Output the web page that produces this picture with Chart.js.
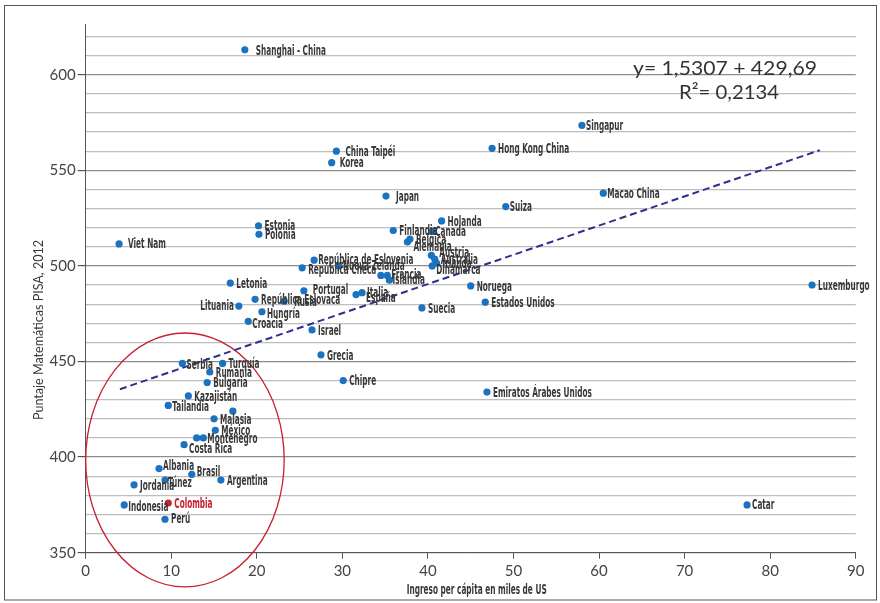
<!DOCTYPE html>
<html>
<head>
<meta charset="utf-8">
<script src="https://cdn.jsdelivr.net/npm/chart.js@4.4.1/dist/chart.umd.min.js"></script>
<style>
  html, body { margin: 0; padding: 0; background: #fff; }
  #wrap { position: relative; width: 880px; height: 603px; }
  canvas { display: block; }
</style>
</head>
<body>
<div id="wrap"><canvas id="c" width="880" height="603"></canvas></div>
<script>
// ---------------- DATA ----------------
const countries = [
  "Shanghai - China", "Singapur", "Hong Kong China", "China Taipéi", "Korea", "Japan",
  "Macao China", "Suiza", "Holanda", "Finlandia", "Canada", "Belgica", "Alemania",
  "Austria", "Australia", "Irlanda", "Dinamarca", "Estonia", "Polonia",
  "República de Eslovenia", "Nueva Zelanda", "República Checa", "", "Francia",
  "Islandia", "Letonia", "Portugal", "Italia", "España", "Noruega", "Estados Unidos",
  "Suecia", "República Eslovaca", "Rusia", "Lituania", "Hungría", "Croacia", "Israel",
  "Grecia", "Chipre", "Luxemburgo", "Emiratos Árabes Unidos", "Catar", "Viet Nam",
  "Serbia", "Turquía", "Rumania", "Bulgaria", "Kazajistán", "Tailandia", "",
  "Malasia", "México", "", "Montenegro", "Costa Rica", "Albania", "Brasil",
  "Argentina", "Túnez", "Jordania", "Indonesia", "Colombia", "Perú"
];
const income = [
  18.6, 58.0, 47.5, 29.3, 28.75, 35.1,
  60.5, 49.1, 41.6, 35.95, 40.5, 37.9, 37.6,
  40.4, 40.8, 41.0, 40.5, 20.2, 20.25,
  26.7, 29.6, 25.3, 34.5, 35.25,
  35.5, 16.9, 25.5, 32.3, 31.6, 45.0, 46.7,
  39.3, 19.8, 23.2, 17.9, 20.6, 19.0, 26.45,
  27.5, 30.1, 84.9, 46.9, 77.3, 3.9,
  11.3, 16.0, 14.5, 14.2, 12.0, 9.65, 17.2,
  15.0, 15.15, 12.97, 13.75, 11.5, 8.57, 12.4,
  15.8, 9.27, 5.65, 4.5, 9.65, 9.27
];
const pisa = [
  613, 573.5, 561.5, 560, 554, 536.5,
  538, 531, 523.5, 518.5, 518, 514, 512.5,
  505.5, 503.5, 501.5, 500, 521, 516.5,
  503, 500, 499, 495, 495,
  492.5, 491, 487, 486, 485, 489.5, 481,
  478, 482.5, 481.5, 479, 476, 471, 466.5,
  453.5, 440, 490, 434, 375, 511.5,
  449, 449, 444.5, 439, 432, 427, 424,
  420, 414, 410, 410, 406.5, 394, 391,
  388, 388, 385.5, 375, 376, 367.5
];
const highlighted = "Colombia";
const trendX = [4.0, 85.8];
const trendY = [435.5, 560.5];
const yTickLabels = [350, 400, 450, 500, 550, 600];
const xTickLabels = [0, 10, 20, 30, 40, 50, 60, 70, 80, 90];
const equationText = "y= 1,5307 + 429,69";
const r2Text = "R²= 0,2134";
const xTitle = "Ingreso per cápita en miles de US";
const yTitle = "Puntaje Matemáticas PISA, 2012";
// ellipse: centre and half-axes in data units
const ellipseCenter = [11.6, 398.5];
const ellipseRadii = [11.6, 66.4];

// --------------- STYLE ----------------
const BLUE = "#1b72bf";
const RED = "#c8202f";
const LABEL_FONT = 'bold 14.5px "Liberation Sans Narrow", "DejaVu Sans Condensed", "Liberation Sans", sans-serif';
const TICK_FONT_FAMILY = 'Lato, "Open Sans", sans-serif';
const labelOffsets = {
  "Shanghai - China": [11, 1], "China Taipéi": [9, 1], "Korea": [8, 1], "Japan": [10, 1],
  "Singapur": [4, 1], "Macao China": [4, 1], "Suiza": [4, 1], "Canada": [3, 1],
  "Alemania": [6, 5], "Austria": [8, -2], "Dinamarca": [4, 4],
  "República de Eslovenia": [4, 0], "Nueva Zelanda": [4, 0], "República Checa": [6, 2],
  "Francia": [4, 0], "Islandia": [3, 0], "Portugal": [9, -1], "Italia": [5, 1],
  "España": [10, 4], "Rusia": [10, 1], "Hungría": [5, 2], "Croacia": [4, 3],
  "Catar": [5, 0], "Viet Nam": [9, 0], "Serbia": [4, 2], "Tailandia": [4, 2],
  "Montenegro": [4, 1], "Costa Rica": [5, 5], "Albania": [4, -2], "Brasil": [5, -2],
  "Túnez": [3, 3], "Indonesia": [4, 2], "Perú": [6, 0], "Lituania": [-5, 0]
};
const leftLabels = ["Lituania"];

function scaledText(ctx, text, x, y, sx, align) {
  ctx.save();
  ctx.translate(x, y);
  ctx.scale(sx, 1);
  ctx.textAlign = align || "left";
  ctx.fillText(text, 0, 0);
  ctx.restore();
}

const annotPlugin = {
  id: "annot",
  beforeDatasetsDraw(chart) {
    const ctx = chart.ctx, xs = chart.scales.x, ys = chart.scales.y;
    const cx = xs.getPixelForValue(ellipseCenter[0]);
    const cy = ys.getPixelForValue(ellipseCenter[1]);
    const rx = Math.abs(xs.getPixelForValue(ellipseCenter[0] + ellipseRadii[0]) - cx);
    const ry = Math.abs(ys.getPixelForValue(ellipseCenter[1] + ellipseRadii[1]) - cy);
    ctx.save();
    ctx.strokeStyle = RED;
    ctx.lineWidth = 1.3;
    ctx.beginPath();
    ctx.ellipse(cx, cy, rx, ry, 0, 0, Math.PI * 2);
    ctx.stroke();
    ctx.restore();
  },
  afterDatasetsDraw(chart) {
    const ctx = chart.ctx;
    const meta = chart.getDatasetMeta(0);
    ctx.save();
    ctx.font = LABEL_FONT;
    const sx = 70 / ctx.measureText("Shanghai - China").width;
    ctx.textBaseline = "middle";
    meta.data.forEach((pt, i) => {
      const name = countries[i];
      if (!name) return;
      const off = labelOffsets[name] || [6, 1];
      ctx.fillStyle = name === highlighted ? RED : "#383838";
      const align = leftLabels.includes(name) ? "right" : "left";
      scaledText(ctx, name, pt.x + off[0], pt.y + off[1], sx, align);
    });
    // x title
    ctx.fillStyle = "#383838";
    ctx.font = 'bold 13.5px "Liberation Sans Narrow", "DejaVu Sans Condensed", "Liberation Sans", sans-serif';
    const sx2 = 140 / ctx.measureText(xTitle).width;
    scaledText(ctx, xTitle, 476.7, 590, sx2, "center");
    // y title
    ctx.font = '14px ' + TICK_FONT_FAMILY;
    const sy = 180 / ctx.measureText(yTitle).width;
    ctx.save();
    ctx.translate(38, 330);
    ctx.rotate(-Math.PI / 2);
    scaledText(ctx, yTitle, 0, 0, sy, "center");
    ctx.restore();
    // equation
    ctx.fillStyle = "#333";
    ctx.textBaseline = "alphabetic";
    ctx.font = '20px ' + TICK_FONT_FAMILY;
    const se = 184 / ctx.measureText(equationText).width;
    scaledText(ctx, equationText, 725, 75, se, "center");
    const sr = 100 / ctx.measureText(r2Text).width;
    scaledText(ctx, r2Text, 729, 98.5, sr, "center");
    // frame
    ctx.strokeStyle = "#555";
    ctx.lineWidth = 1;
    ctx.strokeRect(4.5, 5.5, 872, 594.5);
    ctx.restore();
  }
};

const points = income.map((x, i) => ({ x: x, y: pisa[i] }));
const trend = trendX.map((x, i) => ({ x: x, y: trendY[i] }));

new Chart(document.getElementById("c"), {
  type: "scatter",
  data: {
    datasets: [
      {
        data: points,
        pointRadius: 3.6,
        pointHoverRadius: 3.6,
        pointBorderWidth: 0,
        pointBackgroundColor: countries.map(n => n === highlighted ? RED : BLUE),
        showLine: false
      },
      {
        type: "line",
        data: trend,
        borderColor: "#2c2f8c",
        borderWidth: 2,
        borderDash: [7, 4],
        pointRadius: 0,
        fill: false
      }
    ]
  },
  options: {
    responsive: false,
    animation: false,
    events: [],
    layout: { padding: { left: 0, right: 24.3, top: 24, bottom: 0 } },
    plugins: { legend: { display: false }, tooltip: { enabled: false }, title: { display: false } },
    scales: {
      x: {
        type: "linear",
        min: 0, max: 90,
        afterFit(s) { s.height = 50.3; },
        border: { display: true, color: "#555", width: 1 },
        grid: { drawOnChartArea: false, drawTicks: true, tickLength: 6, tickColor: "#555" },
        ticks: {
          stepSize: 10,
          padding: 3,
          color: "#444",
          font: { family: TICK_FONT_FAMILY, size: 15 },
          callback: v => xTickLabels.includes(v) ? String(v) : ""
        }
      },
      y: {
        type: "linear",
        min: 350, max: 626.5,
        afterFit(s) { s.width = 85.7; },
        border: { display: true, color: "#555", width: 1 },
        grid: {
          drawOnChartArea: true,
          drawTicks: true,
          tickLength: 8,
          color: c => (c.tick && c.tick.value % 50 === 0) ? "#8c8c8c" : "#bdbdbd",
          lineWidth: 1.2,
          tickColor: c => (c.tick && c.tick.value % 50 === 0) ? "#555" : "rgba(0,0,0,0)"
        },
        ticks: {
          stepSize: 10,
          includeBounds: false,
          padding: 2,
          color: "#444",
          font: { family: TICK_FONT_FAMILY, size: 15 },
          autoSkip: false,
          callback: v => yTickLabels.includes(v) ? String(v) : ""
        }
      }
    }
  },
  plugins: [annotPlugin]
});
</script>
</body>
</html>
